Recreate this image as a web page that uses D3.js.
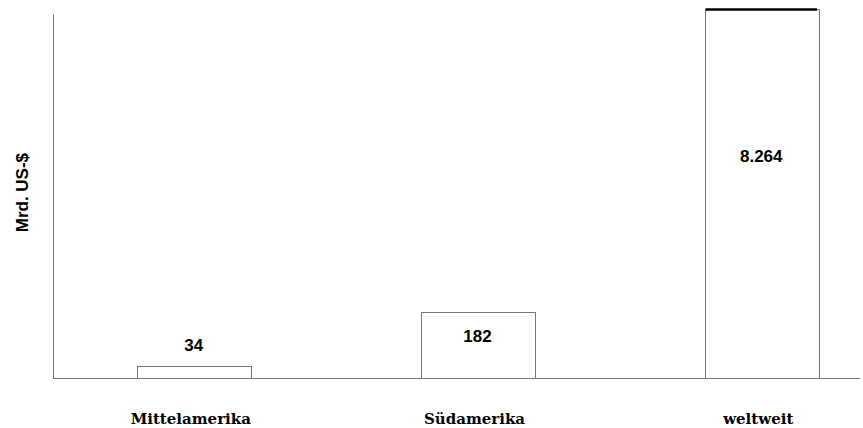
<!DOCTYPE html>
<html>
<head>
<meta charset="utf-8">
<style>
  body { margin: 0; background: #fff; }
  svg { display: block; }
</style>
</head>
<body>
<svg width="863" height="428"></svg>
<script src="https://d3js.org/d3.v7.min.js"></script>
<script>
    var categories = ["Mittelamerika", "Südamerika", "weltweit"];
    var values = [34, 182, 8264];
    var valueLabels = ["34", "182", "8.264"];
    var yTitle = "Mrd. US-$";

    function makeBarChart() {
        var svg = d3.select("svg");

        var baseY = 378;

        var x = d3.scaleBand()
            .domain(categories)
            .range([137, 818])
            .paddingInner(0.6)
            .paddingOuter(0);

        // axis is cut at 1000, the world value runs off the top
        var y = d3.scaleLinear()
            .domain([0, 1015])
            .range([baseY, 9])
            .clamp(true);

        // y axis line
        svg.append("line")
            .attr("x1", 53.5).attr("x2", 53.5)
            .attr("y1", y(1000)).attr("y2", baseY + 0.5)
            .attr("stroke", "#777").attr("stroke-width", 1);

        svg.append("text")
            .attr("transform", "translate(28," + (y(510)) + ") rotate(-90)")
            .attr("text-anchor", "middle")
            .attr("font-family", "Liberation Sans, Arial, sans-serif")
            .attr("font-weight", "bold")
            .attr("font-size", 17)
            .text(yTitle);

        var bars = svg.selectAll(".bar")
            .data(categories)
            .enter().append("g")
            .attr("class", "bar");

        bars.append("rect")
            .attr("x", function(d) { return Math.round(x(d)) + 0.5; })
            .attr("y", function(d, i) { return Math.round(y(values[i])) + 0.5; })
            .attr("width", function() { return Math.round(x.bandwidth()); })
            .attr("height", function(d, i) { return baseY - Math.round(y(values[i])); })
            .attr("fill", "#fff")
            .attr("stroke", "#777")
            .attr("stroke-width", 1);

        // thick line on top of the clipped bar
        bars.filter(function(d, i) { return values[i] > y.domain()[1]; })
            .append("line")
            .attr("x1", function(d) { return x(d) + 1; })
            .attr("x2", function(d) { return x(d) + x.bandwidth() - 1; })
            .attr("y1", function(d, i) { return y(values[2]) + 0.5; })
            .attr("y2", function(d, i) { return y(values[2]) + 0.5; })
            .attr("stroke", "#000")
            .attr("stroke-width", 2.5);

        bars.append("text")
            .attr("x", function(d) { return x(d) + x.bandwidth() / 2; })
            .attr("y", function(d, i) {
                var v = values[i];
                if (v > y.domain()[1]) return y(595);
                if (v < 100) return y(v) - 15;
                return y(v) + 30;
            })
            .attr("text-anchor", "middle")
            .attr("font-family", "Liberation Sans, Arial, sans-serif")
            .attr("font-weight", "bold")
            .attr("font-size", 17)
            .text(function(d, i) { return valueLabels[i]; });

        // x axis line
        svg.append("line")
            .attr("x1", 53).attr("x2", 860)
            .attr("y1", baseY + 0.5).attr("y2", baseY + 0.5)
            .attr("stroke", "#777").attr("stroke-width", 1);

        svg.selectAll(".cat")
            .data(categories)
            .enter().append("text")
            .attr("class", "cat")
            .attr("x", function(d) { return x(d) + x.bandwidth() / 2 - 3; })
            .attr("y", 424)
            .attr("text-anchor", "middle")
            .attr("font-family", "DejaVu Serif, serif")
            .attr("font-weight", "bold")
            .attr("font-size", 15)
            .text(function(d) { return d; });
    }

    makeBarChart();
</script>
</body>
</html>
